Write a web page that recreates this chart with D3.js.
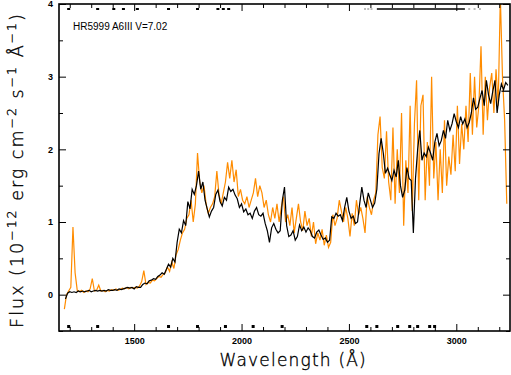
<!DOCTYPE html>
<html>
<head>
<meta charset="utf-8">
<script src="https://cdn.jsdelivr.net/npm/d3@7"></script>
<style>
  body { margin: 0; background: #fff; }
  svg text { font-family: "Liberation Sans", Arial, sans-serif; }
  .tick text { font-size: 9px; font-weight: bold; }
  .axis-title { font-family: "DejaVu Sans", sans-serif; font-weight: 200; fill: #000; stroke: #000; stroke-width: 0.35; }
</style>
</head>
<body>
<div id="chart"></div>
<script>
// star label
const starLabel = "HR5999  A6III  V=7.02";

// black spectrum, 10 A grid starting at 1180 A
const blackStart = 1180;
const blackFlux = [
  -0.06,0.02,0.04,0.03,0.04,0.03,0.05,0.04,0.05,0.04,
  0.05,0.06,0.04,0.05,0.06,0.05,0.06,0.05,0.06,0.05,
  0.07,0.06,0.06,0.07,0.06,0.08,0.07,0.08,0.09,0.10,
  0.09,0.10,0.08,0.11,0.10,0.10,0.14,0.16,0.15,0.19,
  0.20,0.22,0.21,0.25,0.27,0.30,0.28,0.35,0.42,0.38,
  0.50,0.45,0.72,0.90,0.85,1.02,0.95,1.28,1.18,1.45,
  1.38,1.50,1.70,1.45,1.55,1.30,1.18,1.07,1.15,1.20,
  1.38,1.44,1.28,1.22,1.34,1.30,1.48,1.42,1.45,1.37,
  1.32,1.20,1.25,1.14,1.18,1.10,1.12,1.05,1.15,1.20,
  1.10,1.08,1.12,0.98,0.88,0.72,0.92,0.98,0.90,0.85,
  0.88,1.30,1.48,0.95,0.80,0.82,0.88,0.75,0.80,0.96,
  0.88,0.93,0.86,0.92,0.88,0.80,0.78,0.86,0.89,0.82,
  0.76,0.78,0.72,0.75,1.07,1.05,1.12,1.08,1.10,1.02,
  1.20,1.34,1.15,1.05,1.08,0.98,1.00,1.25,1.48,1.30,
  1.20,1.40,1.30,1.20,1.26,1.45,1.94,2.15,1.95,1.67,
  1.74,1.65,1.57,1.71,1.62,1.85,1.50,1.34,1.44,1.75,
  1.60,1.57,0.85,1.60,2.00,2.26,1.85,1.95,1.90,2.03,
  1.95,1.85,2.10,2.22,2.05,2.12,2.26,2.15,2.40,2.26,
  2.35,2.49,2.38,2.30,2.45,2.35,2.42,2.30,2.37,2.50,
  2.71,2.55,2.58,2.70,2.81,2.60,2.95,2.75,2.63,2.80,
  2.95,2.50,2.75,2.90,2.82,2.92,2.88
];

// orange spectrum, 10 A grid starting at 1175 A
const orangeStart = 1175;
const orangeFlux = [
  -0.20,0.00,0.05,0.10,0.93,0.30,0.06,0.04,0.06,0.03,
  0.05,0.04,0.08,0.22,0.05,0.06,0.13,0.05,0.06,0.04,
  0.06,0.05,0.07,0.06,0.08,0.06,0.07,0.09,0.08,0.10,
  0.08,0.10,0.09,0.10,0.09,0.12,0.18,0.33,0.14,0.17,
  0.16,0.20,0.19,0.22,0.25,0.24,0.28,0.30,0.38,0.32,
  0.45,0.36,0.55,0.62,0.75,0.85,0.90,1.05,1.10,1.30,
  1.00,1.25,1.95,1.55,1.40,1.50,1.25,1.12,1.20,1.25,
  1.35,1.70,1.38,1.25,1.40,1.55,1.82,1.60,1.85,1.55,
  1.72,1.35,1.45,1.30,1.25,1.35,1.20,1.30,1.40,1.60,
  1.35,1.50,1.40,1.20,1.30,1.10,1.00,1.20,1.05,1.25,
  1.00,1.20,1.35,1.00,1.10,0.95,1.20,0.85,1.05,1.25,
  1.00,0.88,1.15,0.95,1.05,0.80,1.00,0.70,0.85,0.75,
  0.90,0.68,0.82,0.65,0.72,1.10,0.95,1.05,1.30,1.15,
  1.00,1.20,1.05,0.80,1.12,0.95,1.30,1.10,1.20,1.05,
  0.85,1.35,1.20,1.10,1.30,1.40,2.20,2.45,1.75,1.60,
  2.25,1.55,1.30,2.30,1.25,2.00,1.40,2.50,0.95,1.85,
  1.40,2.60,1.15,2.35,2.95,1.30,2.60,2.75,1.30,2.10,
  1.50,3.00,1.60,2.10,1.30,2.00,1.40,2.40,1.50,1.90,
  1.65,2.20,1.70,2.60,1.80,2.35,2.00,2.60,2.10,3.05,
  2.20,3.00,2.30,2.60,3.42,2.20,3.00,2.40,2.85,3.05,
  2.50,3.10,2.60,4.10,3.00,2.40,1.25
];

// quality flag marks (wavelengths)
const topFlags = [1195, 1330, 1405, 1450, 1515, 1660, 1795, 1890, 1915, 1940];
const topBar = [2630, 3040];
const topDots = [2575, 2590, 2605, 3060, 3085, 3110];
const bottomFlags = [1195, 1330, 1660, 1795, 1925, 2054, 2189, 2583, 2630, 2727, 2783, 2820, 2876, 2899];
// V-band flux marker
const vMarker = { x0: 3210, x1: 3250, flux: 2.8 };

const W = 511, H = 375;
const margin = { top: 4, right: 1, bottom: 44, left: 59 };
const width = W - margin.left - margin.right,
      height = H - margin.top - margin.bottom;

const x = d3.scaleLinear().domain([1150, 3250]).range([0, width]);
const y = d3.scaleLinear().domain([-0.5, 4]).range([height, 0]);

const svg = d3.select("#chart").append("svg")
    .attr("width", W).attr("height", H);
const g = svg.append("g")
    .attr("transform", "translate(" + margin.left + "," + margin.top + ")");

svg.append("clipPath").attr("id", "clip")
  .append("rect").attr("width", width).attr("height", height);

const blackData = blackFlux.map((f, i) => [blackStart + i * 10, f]);
const orangeData = orangeFlux.map((f, i) => [orangeStart + i * 10, f]);

const line = d3.line().x(d => x(d[0])).y(d => y(d[1]));

const plot = g.append("g").attr("clip-path", "url(#clip)");
plot.append("path").datum(orangeData)
    .attr("fill", "none").attr("stroke", "#ff8c00").attr("stroke-width", 1.2)
    .attr("d", line);
plot.append("path").datum(blackData)
    .attr("fill", "none").attr("stroke", "#000").attr("stroke-width", 1.2)
    .attr("d", line);

// flags
g.selectAll(".tflag").data(topFlags).enter().append("rect")
    .attr("x", d => x(d) - 1.5).attr("y", 4).attr("width", 3).attr("height", 2)
    .attr("fill", "#000");
g.append("line")
    .attr("x1", x(topBar[0])).attr("x2", x(topBar[1]))
    .attr("y1", 5).attr("y2", 5).attr("stroke", "#000").attr("stroke-width", 1.5);
g.selectAll(".tdot").data(topDots).enter().append("rect")
    .attr("x", d => x(d) - 1).attr("y", 4.5).attr("width", 2).attr("height", 1)
    .attr("fill", "#777");
g.selectAll(".bflag").data(bottomFlags).enter().append("rect")
    .attr("x", d => x(d) - 1.5).attr("y", height - 6).attr("width", 3).attr("height", 3)
    .attr("fill", "#000");
g.append("line")
    .attr("x1", x(vMarker.x0)).attr("x2", x(vMarker.x1))
    .attr("y1", y(vMarker.flux)).attr("y2", y(vMarker.flux))
    .attr("stroke", "#000").attr("stroke-width", 1.3);

// axes: major + minor ticks, inward
const xMajor = [1500, 2000, 2500, 3000];
const xMinor = d3.range(1200, 3250, 100).filter(v => v % 500 !== 0);
const yMajor = [0, 1, 2, 3, 4];
const yMinor = [-0.5, 0.5, 1.5, 2.5, 3.5];

function drawAxis(axisFn, scale, ticks, size, labels, transform) {
  const a = g.append("g").attr("transform", transform)
    .call(axisFn(scale).tickValues(ticks).tickSizeInner(-size).tickSizeOuter(0)
      .tickFormat(labels ? d3.format("d") : ""));
  a.select(".domain").remove();
  a.selectAll(".tick line").attr("stroke-width", 1);
  return a;
}

const xb = drawAxis(d3.axisBottom, x, xMajor, 7, true, "translate(0," + height + ")");
xb.selectAll("text").attr("dy", "1.1em");
drawAxis(d3.axisBottom, x, xMinor, 4, false, "translate(0," + height + ")");
drawAxis(d3.axisTop, x, xMajor, 7, false, "translate(0,0)");
drawAxis(d3.axisTop, x, xMinor, 4, false, "translate(0,0)");
const yl = drawAxis(d3.axisLeft, y, yMajor, 7, true, "translate(0,0)");
yl.selectAll("text").attr("x", -6);
drawAxis(d3.axisLeft, y, yMinor, 4, false, "translate(0,0)");
drawAxis(d3.axisRight, y, yMajor, 7, false, "translate(" + width + ",0)");
drawAxis(d3.axisRight, y, yMinor, 4, false, "translate(" + width + ",0)");

// frame
g.append("rect").attr("width", width).attr("height", height)
    .attr("fill", "none").attr("stroke", "#000").attr("stroke-width", 1.6);

// star label
g.append("text").attr("x", 14).attr("y", 26)
    .attr("font-size", 10).text(starLabel);

// axis titles
svg.append("text").attr("class", "axis-title")
    .attr("x", margin.left + x(2250) - 2).attr("y", 366)
    .attr("font-size", 17)
    .attr("text-anchor", "middle").attr("letter-spacing", 1.2)
    .text("Wavelength (Å)");

const yt = svg.append("text").attr("class", "axis-title")
    .attr("font-size", 17.5)
    .attr("transform", "translate(23,170) rotate(-90)")
    .attr("text-anchor", "middle").attr("letter-spacing", 2);
yt.append("tspan").text("Flux (10");
yt.append("tspan").attr("baseline-shift", "super").attr("font-size", 12.5).text("−12");
yt.append("tspan").text(" erg cm");
yt.append("tspan").attr("baseline-shift", "super").attr("font-size", 12.5).text("−2");
yt.append("tspan").text(" s");
yt.append("tspan").attr("baseline-shift", "super").attr("font-size", 12.5).text("−1");
yt.append("tspan").text(" Å");
yt.append("tspan").attr("baseline-shift", "super").attr("font-size", 12.5).text("−1");
yt.append("tspan").text(")");
</script>
</body>
</html>
